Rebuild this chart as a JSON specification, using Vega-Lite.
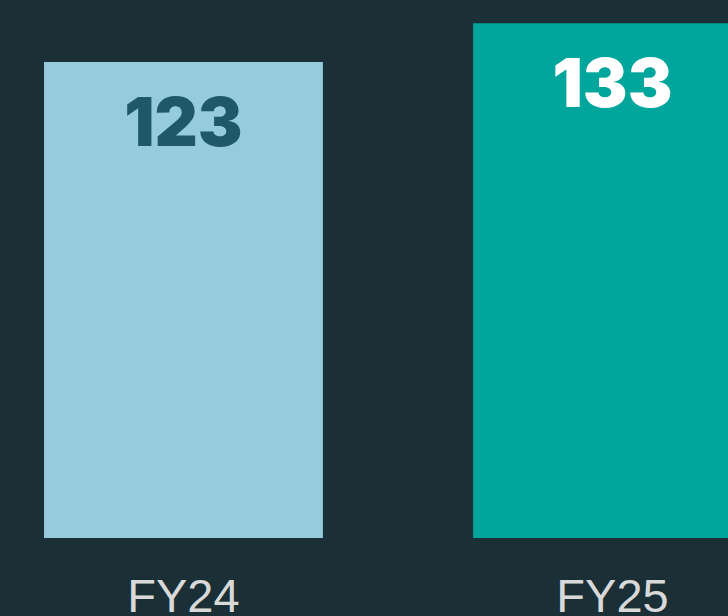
{
  "$schema": "https://vega.github.io/schema/vega-lite/v6.json",
  "width": 728,
  "height": 616,
  "autosize": {"type": "none"},
  "padding": 0,
  "background": "#1b3036",
  "config": {"view": {"stroke": null}},
  "data": {"values": [
    {"year": "FY24", "value": 123, "series": "FY24"},
    {"year": "FY25", "value": 133, "series": "FY25"}
  ]},
  "encoding": {
    "x": {
      "field": "year", "type": "nominal", "sort": null,
      "scale": {"range": [0, 796], "paddingInner": 0.35, "paddingOuter": 0.1026},
      "axis": {
        "title": null, "domain": false, "ticks": false, "tickSize": 0, "grid": false,
        "offset": -78, "labelPadding": 73, "labelBaseline": "alphabetic",
        "labelFont": "Liberation Sans", "labelFontSize": 47, "labelColor": "#d9d9d9",
        "labelAngle": 0
      }
    },
    "y": {
      "field": "value", "type": "quantitative",
      "scale": {"domain": [-20.17, 139], "nice": false, "zero": false},
      "axis": null
    }
  },
  "layer": [
    {
      "mark": {"type": "bar"},
      "encoding": {
        "y2": {"datum": 0},
        "color": {
          "field": "series", "type": "nominal",
          "scale": {"domain": ["FY24", "FY25"], "range": ["#96cbdc", "#00a59c"]},
          "legend": null
        }
      }
    },
    {
      "mark": {"type": "text", "baseline": "alphabetic", "dy": 84, "font": "Inter", "fontWeight": 900, "fontSize": 67},
      "encoding": {
        "text": {"field": "value", "type": "quantitative"},
        "color": {
          "field": "series", "type": "nominal",
          "scale": {"domain": ["FY24", "FY25"], "range": ["#1f5868", "#ffffff"]},
          "legend": null
        }
      }
    }
  ],
  "resolve": {"scale": {"color": "independent"}}
}
